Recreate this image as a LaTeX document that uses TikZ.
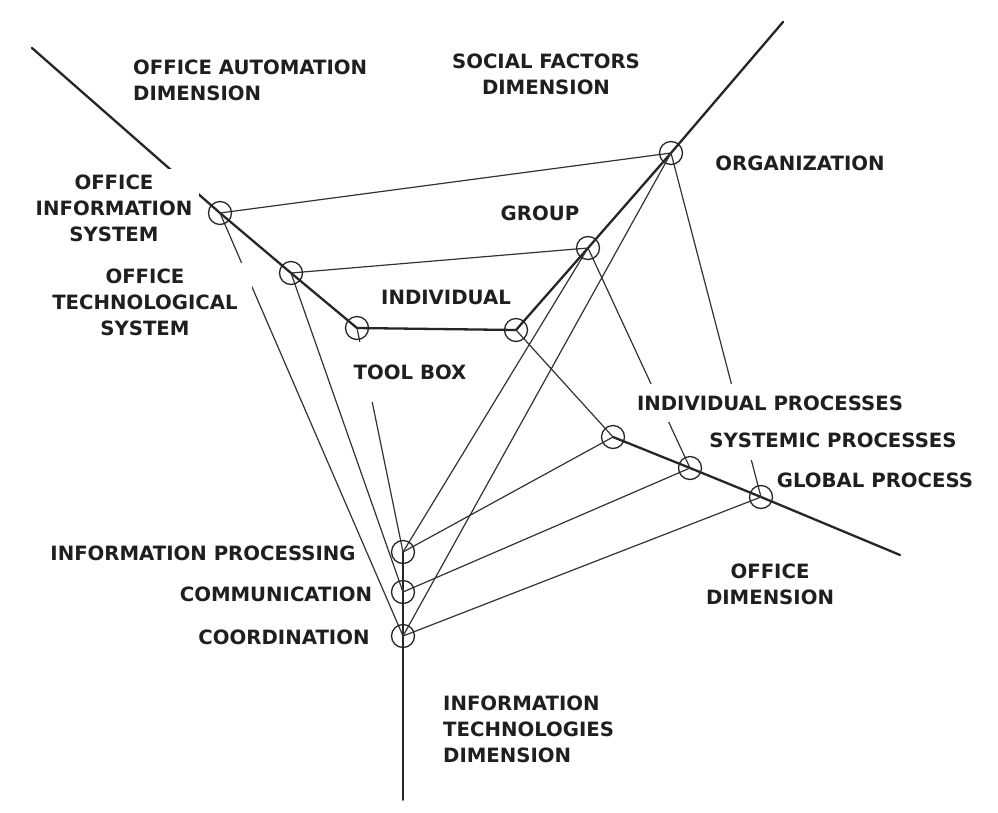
\documentclass[tikz,border=0pt]{standalone}
\usepackage{fontspec}
\setmainfont{DejaVu Sans}
\begin{document}
\begin{tikzpicture}[x=1pt,y=-1pt,
  axis/.style={line width=2.3pt, line cap=round, black!85},
  link/.style={line width=1.2pt, black!80},
  ring/.style={circle, draw=black!85, line width=1.3pt, minimum size=23pt, inner sep=0pt},
  lbl/.style={fill=white, inner xsep=8pt, inner ysep=6pt, align=center, text=black!88,
    font=\fontsize{19.7}{26}\selectfont\bfseries}]
\fill[white] (0,0) rectangle (998,812);
\useasboundingbox (0,0) rectangle (998,812);
% points
\coordinate (oa) at (32,48);
\coordinate (ois) at (220,213);
\coordinate (ots) at (291,273);
\coordinate (tb) at (357,328);
\coordinate (ind) at (516,330);
\coordinate (grp) at (588,248);
\coordinate (org) at (671,153);
\coordinate (sf) at (783,22);
\coordinate (ip) at (613,437);
\coordinate (sp) at (690,468);
\coordinate (gp) at (761,497);
\coordinate (od) at (900,555);
\coordinate (ipr) at (403,552);
\coordinate (com) at (403,592);
\coordinate (coo) at (403,636);
\coordinate (it) at (403,800);
% axes
\draw[axis] (oa) -- (ois) -- (ots) -- (tb) -- (ind) -- (grp) -- (org) -- (sf);
\draw[link] (ind) -- (ip);
\draw[axis] (ip) -- (sp) -- (gp) -- (od);
\draw[axis, line width=1.9pt] (ipr) -- (com) -- (coo) -- (it);
% links
\draw[link] (ois) -- (org);
\draw[link] (ots) -- (grp);
\draw[link] (ois) -- (coo);
\draw[link] (ots) -- (com);
\draw[link] (tb) -- (ipr);
\draw[link] (grp) -- (ipr);
\draw[link] (org) -- (coo);
\draw[link] (grp) -- (sp);
\draw[link] (org) -- (gp);
\draw[link] (ip) -- (ipr);
\draw[link] (sp) -- (com);
\draw[link] (gp) -- (coo);
% labels
\node[lbl, anchor=west, align=left] (loa) at (125,80) {OFFICE AUTOMATION\\DIMENSION};
\node[lbl] (lsf) at (546,74) {SOCIAL FACTORS\\DIMENSION};
\node[lbl] (lorg) at (800,163) {ORGANIZATION};
\node[lbl, inner xsep=7pt] (lois) at (114,208) {OFFICE\\INFORMATION\\SYSTEM};
\node[lbl, inner xsep=14pt] (lots) at (145,302) {OFFICE\\TECHNOLOGICAL\\SYSTEM};
\node[lbl] (lgrp) at (540,213) {GROUP};
\node[lbl] (lind) at (446,297) {INDIVIDUAL};
\node[lbl, minimum height=60pt] (ltb) at (410,372) {TOOL BOX};
\node[lbl, inner ysep=12pt] (lip) at (770,403) {INDIVIDUAL PROCESSES};
\node[lbl, inner ysep=13pt] (lsp) at (833,440) {SYSTEMIC PROCESSES};
\node[lbl, inner ysep=4pt] (lgp) at (875,480) {GLOBAL PROCESS};
\node[lbl] (lod) at (770,584) {OFFICE\\DIMENSION};
\node[lbl, inner xsep=3pt] (lipr) at (203,553) {INFORMATION PROCESSING};
\node[lbl, inner xsep=3pt] (lcom) at (276,594) {COMMUNICATION};
\node[lbl, inner xsep=3pt] (lcoo) at (284,637) {COORDINATION};
\node[lbl, anchor=west, align=left] (lit) at (435,729) {INFORMATION\\TECHNOLOGIES\\DIMENSION};
% circles
\foreach \p in {ois,ots,tb,ind,grp,org,ip,sp,gp,ipr,com,coo}
  \node[ring] (c-\p) at (\p) {};
\end{tikzpicture}
\end{document}
